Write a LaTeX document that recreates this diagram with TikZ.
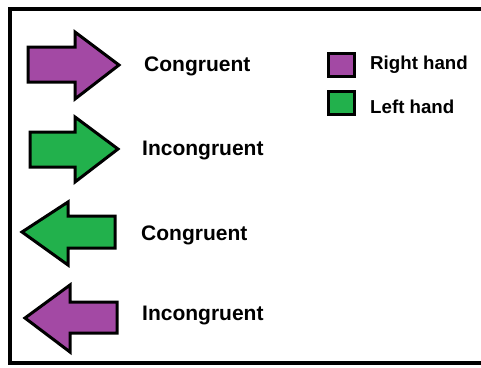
\documentclass[tikz,border=0pt]{standalone}
\usepackage{fontspec}
\setmainfont{Liberation Sans}
\definecolor{mspurple}{RGB}{163,73,164}
\definecolor{msgreen}{RGB}{34,177,76}
\begin{document}
\begin{tikzpicture}[x=1pt,y=-1pt,
  arrowshape/.style={draw=black,line width=3pt,line join=miter},
  lbl/.style={anchor=base west,inner sep=0pt,font=\fontsize{21}{25}\selectfont\bfseries},
  leg/.style={anchor=base west,inner sep=0pt,font=\fontsize{18.7}{22}\selectfont\bfseries},
  legbox/.style={draw=black,line width=3pt}]
\useasboundingbox (0,0) rectangle (481,367);
\fill[white] (0,0) rectangle (481,367);
% frame
\draw[line width=3.5pt] (483,9) -- (10,9) -- (10,363) -- (483,363);
% arrows
\draw[arrowshape,fill=mspurple] (28,47) -- (75,47) -- (75,32) -- (119,65) -- (75,99) -- (75,82) -- (28,82) -- cycle;
\draw[arrowshape,fill=msgreen] (30,132) -- (75,132) -- (75,117) -- (118,149) -- (75,182) -- (75,167) -- (30,167) -- cycle;
\draw[arrowshape,fill=msgreen] (22,232) -- (68,202) -- (68,216) -- (115,216) -- (115,248) -- (68,248) -- (68,265) -- cycle;
\draw[arrowshape,fill=mspurple] (25,318) -- (70,285) -- (70,302) -- (117,302) -- (117,333) -- (70,333) -- (70,352) -- cycle;
% labels
\node[lbl] (c1) at (144,71) {Congruent};
\node[lbl] (i1) at (142,155) {Incongruent};
\node[lbl] (c2) at (141,240) {Congruent};
\node[lbl] (i2) at (142,320) {Incongruent};
% legend
\draw[legbox,fill=mspurple] (328,53) rectangle (354,76);
\draw[legbox,fill=msgreen] (328,91) rectangle (354,114);
\node[leg] (rh) at (370,69) {Right hand};
\node[leg] (lh) at (370,113) {Left hand};
\end{tikzpicture}
\end{document}
